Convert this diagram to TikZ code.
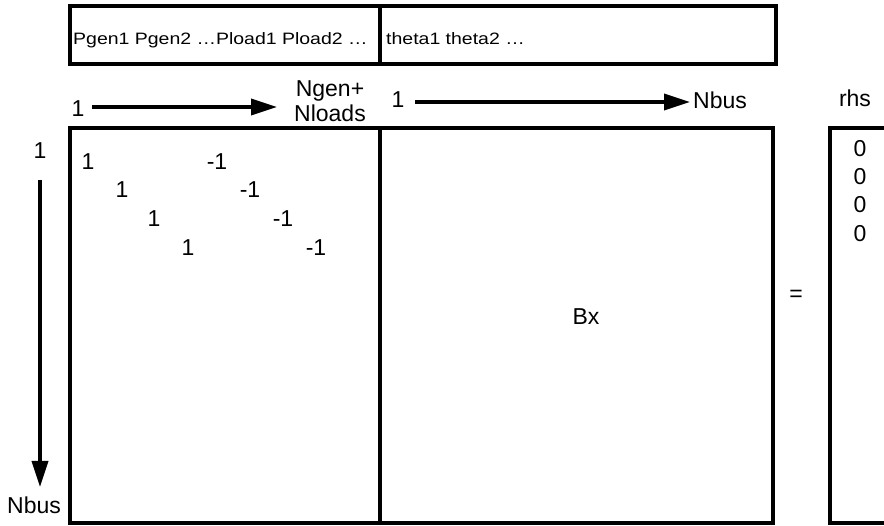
\documentclass[tikz,border=0pt]{standalone}
\usepackage{fontspec}
\setmainfont{Liberation Sans}
\newfontfamily\hdrfont{Liberation Sans}[FakeStretch=1.18]
\usetikzlibrary{arrows.meta}
\begin{document}
\begin{tikzpicture}[x=1pt,y=-1pt,
  frame/.style={line width=4pt, line join=miter},
  arr/.style={line width=3.5pt, -{Triangle[length=26pt,width=16pt]}},
  big/.style={inner sep=0pt, anchor=base, font=\fontsize{23}{27}\selectfont},
  hdr/.style={inner sep=0pt, anchor=base west, font=\hdrfont\fontsize{16.5}{20}\selectfont},
]
\useasboundingbox (0,0) rectangle (884,526);
\clip (0,0) rectangle (884,526);
\fill[white] (0,0) rectangle (884,526);

% header box
\coordinate (h1) at (70,6);
\coordinate (h2) at (776,64);
\draw[frame] (h1) rectangle (h2);
\draw[frame] (380,6) -- (380,64);
\node[hdr] (hp) at (73,45) {Pgen1 Pgen2 …Pload1 Pload2 …};
\node[hdr] (ht) at (386,45) {theta1 theta2 …};

% main matrix box
\coordinate (m1) at (70,128);
\coordinate (m2) at (773,523);
\draw[frame] (m1) rectangle (m2);
\draw[frame] (380,128) -- (380,523);

% rhs box
\coordinate (r1) at (830,128);
\coordinate (r2) at (890,523);
\draw[frame] (r1) rectangle (r2);

% column arrows
\node[big] (c1) at (78,117) {1};
\node[big] (cng) at (330,97) {Ngen+};
\node[big] (cnl) at (330,122) {Nloads};
\coordinate (a1s) at (92,107);
\coordinate (a1e) at (277,107);
\draw[arr] (a1s) -- (a1e);

\node[big] (c2) at (398,108) {1};
\node[big, anchor=base west] (cnb) at (693,109) {Nbus};
\coordinate (a2s) at (415,102);
\coordinate (a2e) at (690,102);
\draw[arr] (a2s) -- (a2e);

\node[big] (rhs) at (855,107) {rhs};

% row arrow
\node[big] (r1lbl) at (40,159) {1};
\node[big] (rnb) at (34,513) {Nbus};
\coordinate (a3s) at (40,180);
\coordinate (a3e) at (40,487);
\draw[arr] (a3s) -- (a3e);

% matrix entries
\node[big] (p1) at (88,170) {1};
\node[big] (p2) at (122,198) {1};
\node[big] (p3) at (154,227) {1};
\node[big] (p4) at (188,256) {1};
\node[big] (n1) at (217,170) {-1};
\node[big] (n2) at (250,198) {-1};
\node[big] (n3) at (283,227) {-1};
\node[big] (n4) at (316,256) {-1};

\node[big] (bx) at (586,325) {Bx};
\node[big] (eq) at (796,302) {=};

% rhs entries
\node[big] (z1) at (860,157) {0};
\node[big] (z2) at (860,185) {0};
\node[big] (z3) at (860,213) {0};
\node[big] (z4) at (860,242) {0};
\end{tikzpicture}
\end{document}
